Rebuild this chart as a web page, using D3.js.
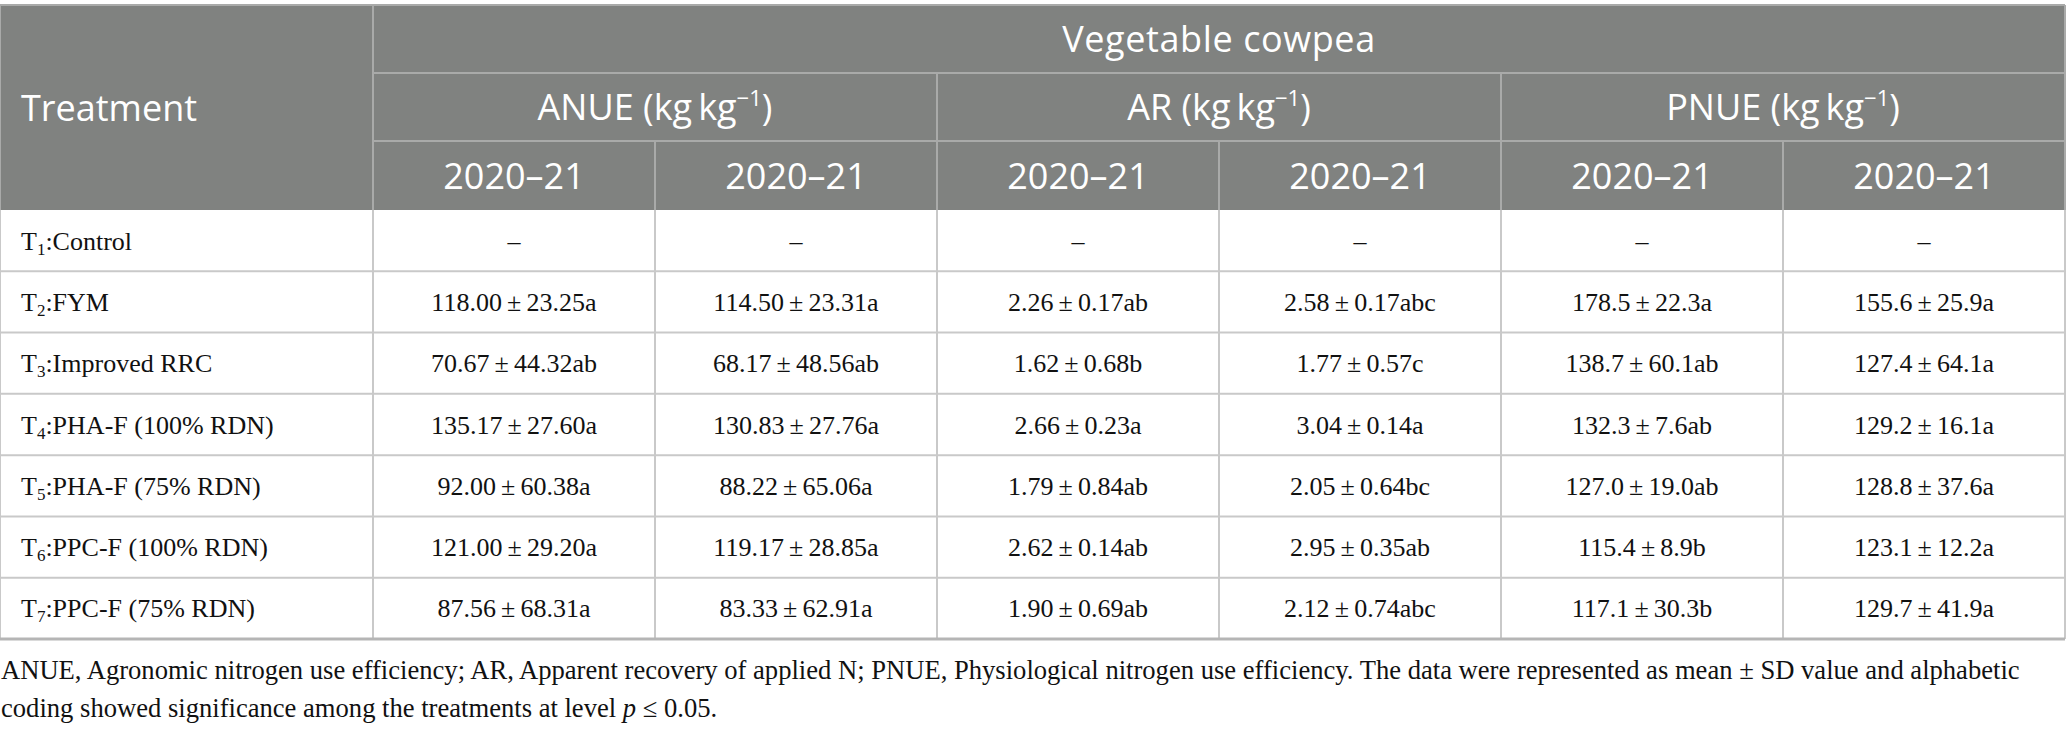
<!DOCTYPE html>
<html>
<head>
<meta charset="utf-8">
<script src="https://cdn.jsdelivr.net/npm/d3@7"></script>
<style>
  body { margin: 0; background: #fff; }
  svg { display: block; }
</style>
</head>
<body>
<svg id="table"></svg>
<script>
// Nitrogen use efficiency table, vegetable cowpea

const treatmentSubs = ['1', '2', '3', '4', '5', '6', '7'];
const treatmentNames = [':Control', ':FYM', ':Improved RRC', ':PHA-F (100% RDN)',
  ':PHA-F (75% RDN)', ':PPC-F (100% RDN)', ':PPC-F (75% RDN)'];

const cropLabel = 'Vegetable cowpea';
const groupNames = ['ANUE', 'AR', 'PNUE'];
const groupDecimals = [2, 2, 1];
const seasonLabels = ['2020\u201321', '2020\u201321', '2020\u201321', '2020\u201321', '2020\u201321', '2020\u201321'];

// null = no value (control)
const anue1Mean = [null, 118.00, 70.67, 135.17, 92.00, 121.00, 87.56];
const anue1Sd   = [null, 23.25, 44.32, 27.60, 60.38, 29.20, 68.31];
const anue1Sig  = ['', 'a', 'ab', 'a', 'a', 'a', 'a'];
const anue2Mean = [null, 114.50, 68.17, 130.83, 88.22, 119.17, 83.33];
const anue2Sd   = [null, 23.31, 48.56, 27.76, 65.06, 28.85, 62.91];
const anue2Sig  = ['', 'a', 'ab', 'a', 'a', 'a', 'a'];

const ar1Mean = [null, 2.26, 1.62, 2.66, 1.79, 2.62, 1.90];
const ar1Sd   = [null, 0.17, 0.68, 0.23, 0.84, 0.14, 0.69];
const ar1Sig  = ['', 'ab', 'b', 'a', 'ab', 'ab', 'ab'];
const ar2Mean = [null, 2.58, 1.77, 3.04, 2.05, 2.95, 2.12];
const ar2Sd   = [null, 0.17, 0.57, 0.14, 0.64, 0.35, 0.74];
const ar2Sig  = ['', 'abc', 'c', 'a', 'bc', 'ab', 'abc'];

const pnue1Mean = [null, 178.5, 138.7, 132.3, 127.0, 115.4, 117.1];
const pnue1Sd   = [null, 22.3, 60.1, 7.6, 19.0, 8.9, 30.3];
const pnue1Sig  = ['', 'a', 'ab', 'ab', 'ab', 'b', 'b'];
const pnue2Mean = [null, 155.6, 127.4, 129.2, 128.8, 123.1, 129.7];
const pnue2Sd   = [null, 25.9, 64.1, 16.1, 37.6, 12.2, 41.9];
const pnue2Sig  = ['', 'a', 'a', 'a', 'a', 'a', 'a'];

const footLine1 = 'ANUE, Agronomic nitrogen use efficiency; AR, Apparent recovery of applied N; PNUE, Physiological nitrogen use efficiency. The data were represented as mean \u00b1 SD value and alphabetic';

// columns in table order
const columns = [
  { group: 0, mean: anue1Mean, sd: anue1Sd, sig: anue1Sig },
  { group: 0, mean: anue2Mean, sd: anue2Sd, sig: anue2Sig },
  { group: 1, mean: ar1Mean, sd: ar1Sd, sig: ar1Sig },
  { group: 1, mean: ar2Mean, sd: ar2Sd, sig: ar2Sig },
  { group: 2, mean: pnue1Mean, sd: pnue1Sd, sig: pnue1Sig },
  { group: 2, mean: pnue2Mean, sd: pnue2Sd, sig: pnue2Sig }
];

const width = 2067, height = 731;
const left = 0, firstColW = 373, right = 2065;
const headerY = [5, 73, 141, 210];
const bodyBottom = 639;

const headFill = '#808280';
const headLine = '#a9aaa9';
const bodyLine = '#c9c9c9';
const sans = '"Open Sans", "Noto Sans", sans-serif';
const serif = '"Liberation Serif", "Times New Roman", serif';

const svg = d3.select('#table')
  .attr('width', width)
  .attr('height', height);

const x = d3.scaleBand()
  .domain(d3.range(columns.length))
  .range([firstColW, right]);

const y = d3.scaleBand()
  .domain(d3.range(treatmentNames.length))
  .range([headerY[3], bodyBottom]);

// header background
svg.append('rect')
  .attr('x', left).attr('y', headerY[0])
  .attr('width', right - left).attr('height', headerY[3] - headerY[0])
  .attr('fill', headFill);

const hl = svg.append('g').attr('stroke', headLine).attr('stroke-width', 2);
hl.append('line').attr('x1', left).attr('x2', right).attr('y1', headerY[0]).attr('y2', headerY[0]);
hl.append('line').attr('x1', firstColW).attr('x2', right).attr('y1', headerY[1]).attr('y2', headerY[1]);
hl.append('line').attr('x1', firstColW).attr('x2', right).attr('y1', headerY[2]).attr('y2', headerY[2]);
hl.append('line').attr('x1', firstColW).attr('x2', firstColW).attr('y1', headerY[0]).attr('y2', headerY[3]);
// group separators
[2, 4].forEach(i => {
  hl.append('line').attr('x1', x(i)).attr('x2', x(i)).attr('y1', headerY[1]).attr('y2', headerY[3]);
});
// season separators
[1, 3, 5].forEach(i => {
  hl.append('line').attr('x1', x(i)).attr('x2', x(i)).attr('y1', headerY[2]).attr('y2', headerY[3]);
});
hl.append('line').attr('x1', right).attr('x2', right).attr('y1', headerY[0]).attr('y2', headerY[3]);
hl.append('line').attr('x1', left).attr('x2', left).attr('y1', headerY[0]).attr('y2', headerY[3]);

// header text
const ht = svg.append('g')
  .attr('fill', '#fff')
  .attr('font-family', sans)
  .attr('font-size', 36);

ht.append('text')
  .attr('x', 21).attr('y', (headerY[0] + headerY[3]) / 2 + 13)
  .text('Treatment');

ht.append('text')
  .attr('x', (firstColW + right) / 2).attr('y', (headerY[0] + headerY[1]) / 2 + 13)
  .attr('text-anchor', 'middle')
  .attr('letter-spacing', 0.6)
  .text(cropLabel);

groupNames.forEach((g, i) => {
  const t = ht.append('text')
    .attr('x', x(i * 2) + x.bandwidth())
    .attr('y', (headerY[1] + headerY[2]) / 2 + 13)
    .attr('text-anchor', 'middle');
  t.append('tspan').text(g + ' (kg\u2009kg');
  t.append('tspan').attr('font-size', 22).attr('dy', -14).text('\u22121');
  t.append('tspan').attr('dy', 14).text(')');
});

ht.selectAll('text.season')
  .data(seasonLabels)
  .enter().append('text')
  .attr('class', 'season')
  .attr('x', (d, i) => x(i) + x.bandwidth() / 2)
  .attr('y', (headerY[2] + headerY[3]) / 2 + 13)
  .attr('text-anchor', 'middle')
  .text(d => d);

// body grid
const bl = svg.append('g').attr('stroke', bodyLine).attr('stroke-width', 2);
bl.selectAll('line.row')
  .data(d3.range(1, treatmentNames.length))
  .enter().append('line')
  .attr('class', 'row')
  .attr('x1', left).attr('x2', right)
  .attr('y1', d => y(d)).attr('y2', d => y(d));
bl.selectAll('line.col')
  .data(d3.range(0, columns.length + 1))
  .enter().append('line')
  .attr('class', 'col')
  .attr('x1', d => d === columns.length ? right : x(d))
  .attr('x2', d => d === columns.length ? right : x(d))
  .attr('y1', headerY[3]).attr('y2', bodyBottom);
bl.append('line').attr('x1', left).attr('x2', left).attr('y1', headerY[3]).attr('y2', bodyBottom);
bl.append('line')
  .attr('x1', left).attr('x2', right)
  .attr('y1', bodyBottom).attr('y2', bodyBottom)
  .attr('stroke', '#b5b5b5').attr('stroke-width', 3);

// body text
const bt = svg.append('g')
  .attr('fill', '#111')
  .attr('font-family', serif)
  .attr('font-size', 26);

const rows = bt.selectAll('g.row')
  .data(treatmentNames)
  .enter().append('g')
  .attr('class', 'row')
  .attr('transform', (d, i) => `translate(0,${y(i) + y.bandwidth() / 2 + 9})`);

rows.append('text')
  .attr('x', 21)
  .each(function(d, i) {
    const t = d3.select(this);
    t.append('tspan').text('T');
    t.append('tspan').attr('font-size', 17).attr('dy', 5).text(treatmentSubs[i]);
    t.append('tspan').attr('dy', -5).text(d);
  });

columns.forEach((col, ci) => {
  const dec = groupDecimals[col.group];
  rows.append('text')
    .attr('x', x(ci) + x.bandwidth() / 2)
    .attr('text-anchor', 'middle')
    .text((d, i) => col.mean[i] === null ? '\u2013'
      : col.mean[i].toFixed(dec) + '\u2009\u00b1\u2009' + col.sd[i].toFixed(dec) + col.sig[i]);
});

// footnote
const ft = svg.append('g')
  .attr('fill', '#111')
  .attr('font-family', serif)
  .attr('font-size', 26.6);

ft.append('text').attr('x', 1).attr('y', 679).text(footLine1);
const f2 = ft.append('text').attr('x', 1).attr('y', 717);
f2.append('tspan').text('coding showed significance among the treatments at level ');
f2.append('tspan').attr('font-style', 'italic').text('p');
f2.append('tspan').text(' \u2264 0.05.');
</script>
</body>
</html>
